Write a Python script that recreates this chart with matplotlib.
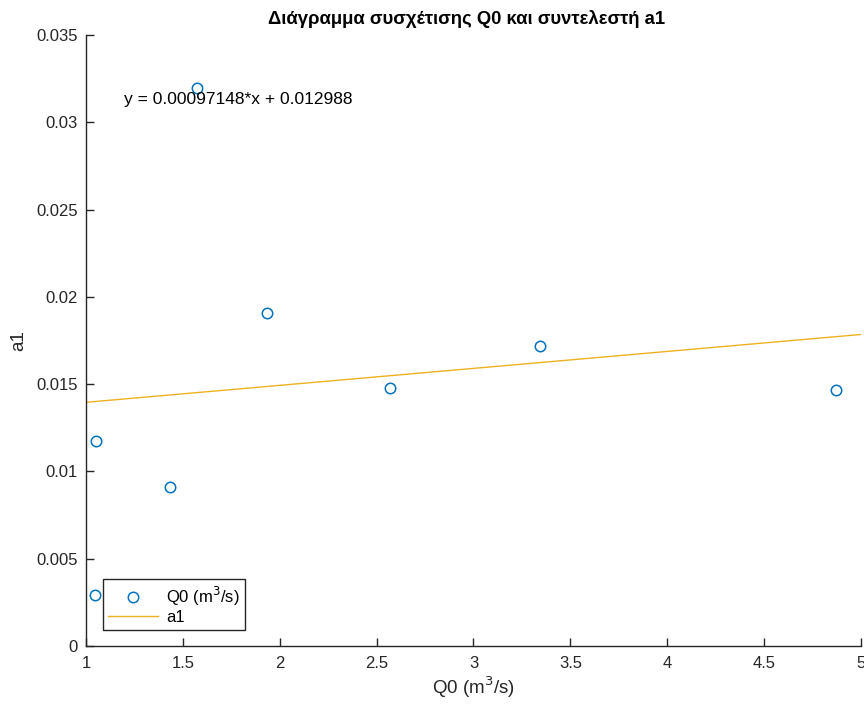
import matplotlib
matplotlib.use("Agg")
import matplotlib.pyplot as plt
from matplotlib.ticker import FuncFormatter

plt.rcParams['font.family'] = ['Liberation Sans', 'DejaVu Sans']

# data
q0 = [1.046, 1.052, 1.434, 1.573, 1.934, 2.569, 3.343, 4.871]
a1 = [0.00292, 0.01174, 0.00911, 0.03196, 0.01908, 0.01478, 0.01719, 0.01466]
slope = 0.00097148
intercept = 0.012988
fit_x = [1, 5]

AX = "#262626"
BLUE = "#0072BD"
ORANGE = "#EDB120"

fig = plt.figure(figsize=(8.64, 7.05), dpi=100)
ax = fig.add_axes([86 / 864, 1 - 646 / 705, 775 / 864, 611 / 705])

ax.plot(q0, a1, 'o', mfc='none', mec=BLUE, ms=7.5, mew=1.1, label='Q0 (m$^3$/s)')
ax.plot(fit_x, [slope * x + intercept for x in fit_x], color=ORANGE, lw=1, label='a1')

ax.text(1.196, 0.03133, 'y = %.8g*x + %.8g' % (slope, intercept),
        fontsize=12.5, color='black', va='center', ha='left')

ax.set_xlim(1, 5)
ax.set_ylim(0, 0.035)
ax.set_xticks([1, 1.5, 2, 2.5, 3, 3.5, 4, 4.5, 5])
ax.set_yticks([0, 0.005, 0.01, 0.015, 0.02, 0.025, 0.03, 0.035])
ax.xaxis.set_major_formatter(FuncFormatter(lambda v, p: '%g' % v))
ax.yaxis.set_major_formatter(FuncFormatter(lambda v, p: '%g' % round(v, 6)))

for s in ['top', 'right']:
    ax.spines[s].set_visible(False)
for s in ['left', 'bottom']:
    ax.spines[s].set_color(AX)
    ax.spines[s].set_linewidth(1.0)
ax.tick_params(direction='in', length=6, width=1, colors=AX, labelsize=12)
ax.tick_params(axis='x', pad=7)
ax.tick_params(axis='y', pad=6)

ax.set_xlabel('Q0 (m$^3$/s)', fontsize=13.5, color=AX, labelpad=3)
ax.set_ylabel('a1', fontsize=13.5, color=AX, labelpad=6)
ax.set_title('Διάγραμμα συσχέτισης Q0 και συντελεστή a1', fontsize=13.3,
             fontweight='bold', color='black', pad=8, x=0.491)

leg = ax.legend(loc='lower left', bbox_to_anchor=(17 / 775, 16 / 611), fontsize=12,
                frameon=True, fancybox=False, edgecolor=AX, framealpha=1,
                borderpad=0.3, handlelength=3.0, handletextpad=0.5,
                labelspacing=0.15, borderaxespad=0)
leg.get_frame().set_linewidth(1)

fig.savefig('out.png', dpi=100)
